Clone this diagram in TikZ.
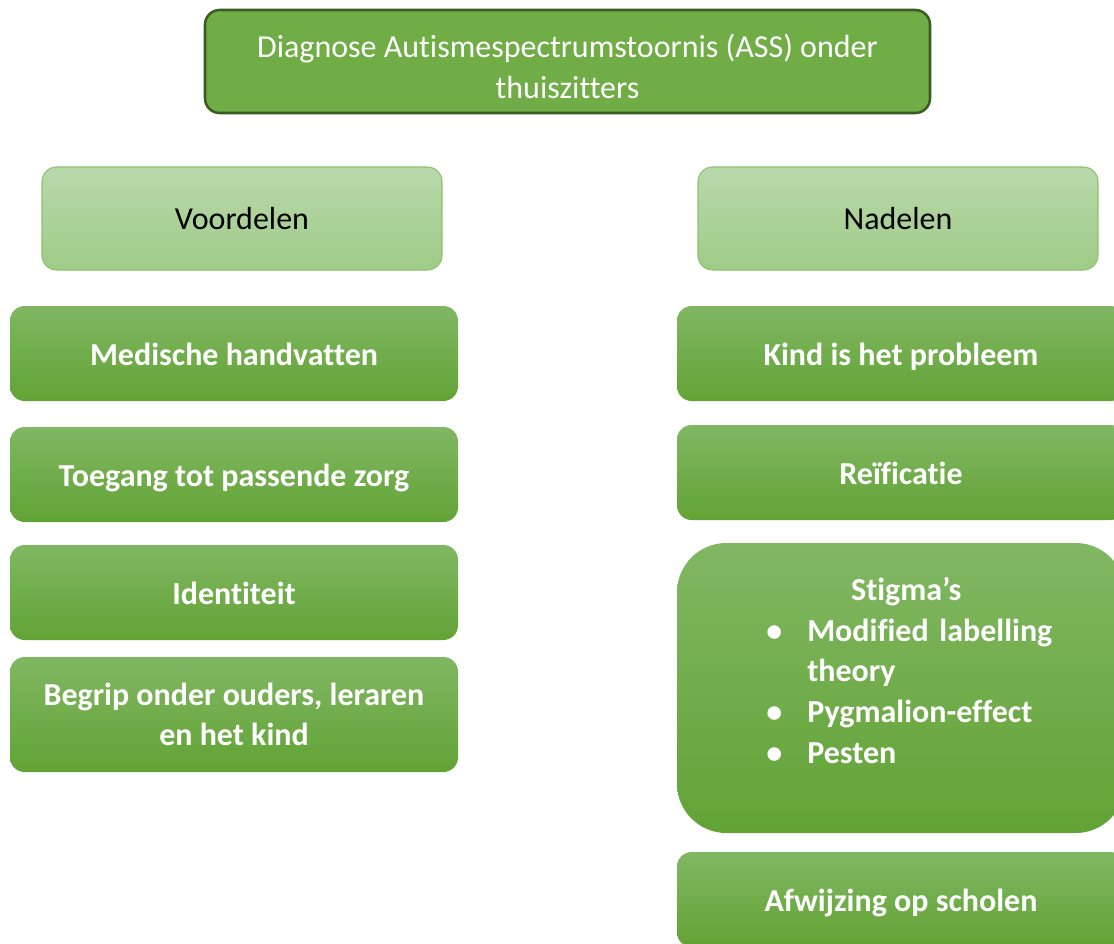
\documentclass[tikz,border=0pt]{standalone}
\usepackage{fontspec}
\setmainfont{Carlito}[Ligatures=NoCommon]
\usepackage{tikz}

\definecolor{darkrim}{HTML}{3A5C22}
\definecolor{titlegreen}{HTML}{70AD47}
\definecolor{lighttop}{HTML}{B9D9AB}
\definecolor{lightbot}{HTML}{9FCB88}
\definecolor{lightrim}{HTML}{8CC26C}
\definecolor{greentop}{HTML}{81B763}
\definecolor{greenmid}{HTML}{70AD47}
\definecolor{greenbot}{HTML}{62A335}

\newcommand{\bigtext}{\fontsize{24}{30.5}\selectfont}
\newcommand{\stigmaline}[1]{\par\hangindent=30.75pt\hangafter=1\noindent\makebox[30.75pt][l]{\textbullet}#1}

\begin{document}
\begin{tikzpicture}[x=0.75pt,y=-0.75pt,
		titlebox/.style={shape=rectangle,rounded corners=11pt,draw=darkrim,line width=1.9pt,fill=titlegreen,text=white,font=\bigtext,align=center,minimum width=543.75pt,minimum height=77.25pt},
		headbox/.style={shape=rectangle,rounded corners=11pt,draw=lightrim,line width=0.8pt,top color=lighttop,bottom color=lightbot,text=black,font=\bigtext,minimum width=300pt,minimum height=77.25pt},
		itembox/.style={shape=rectangle,rounded corners=11pt,top color=greentop,middle color=greenmid,bottom color=greenbot,text=white,font=\bigtext\bfseries,align=center,minimum width=336pt,minimum height=71.25pt},
		onebox/.style={itembox,text height=22pt,text depth=4.2pt}]
		\useasboundingbox (0,0) rectangle (1114,943);
		\node [titlebox] (title) at (567.5,61.5) {\rule{0pt}{25pt}Diagnose Autismespectrumstoornis (ASS) onder\\thuiszitters};
		\node [headbox] (pro) at (242,218.5) {Voordelen};
		\node [headbox] (con) at (898,218.5) {Nadelen};
		% voordelen
		\node [onebox] (pro1) at (234,353.5) {Medische handvatten};
		\node [onebox] (pro2) at (234,474.5) {Toegang tot passende zorg};
		\node [onebox] (pro3) at (234,592.5) {Identiteit};
		\node [itembox,minimum height=86.25pt] (pro4) at (234,714.5) {Begrip onder ouders, leraren\\en het kind};
		% nadelen
		\node [onebox] (con1) at (901,353.5) {Kind is het probleem};
		\node [onebox] (con2) at (901,472.5) {Reïficatie};
		\node [itembox,rounded corners=37pt,minimum height=217.5pt] (con3) at (901,688) {};
		\node [anchor=north west,text=white,font=\bigtext\bfseries,text width=240pt,inner sep=0pt] (stigma) at (766,577) {{\centering\hspace*{-30pt}Stigma’s\par}\raggedright
			\stigmaline{Modified labelling\newline theory}
			\stigmaline{Pygmalion-effect}
			\stigmaline{Pesten}};
		\node [onebox] (con4) at (901,899.5) {Afwijzing op scholen};
	\end{tikzpicture}
\end{document}
